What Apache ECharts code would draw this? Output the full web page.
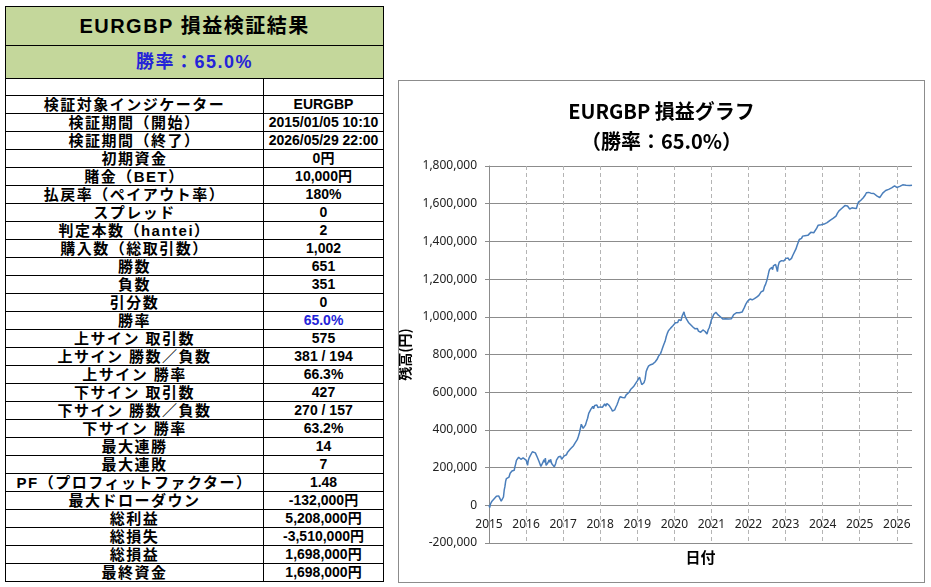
<!DOCTYPE html>
<html lang="ja">
<head>
  <meta charset="UTF-8" />
  <title>EURGBP 損益検証結果</title>
  <script src="https://cdn.jsdelivr.net/npm/echarts@6.0.0/dist/echarts.min.js"></script>
  <style>
    body {
      margin: 0;
      background: #ffffff;
      width: 931px;
      height: 587px;
      overflow: hidden;
      font-family: 'Liberation Sans', 'Noto Sans CJK JP', sans-serif;
    }
    #report {
      position: absolute;
      left: 5px;
      top: 6px;
      width: 378px;
      border-collapse: collapse;
      table-layout: fixed;
      color: #000;
      font-weight: bold;
    }
    #report td {
      border: 1px solid #000;
      padding: 0;
      text-align: center;
      white-space: nowrap;
      overflow: hidden;
      height: 17px;
      line-height: 17px;
    }
    #report td.lbl {
      font-size: 15px;
      letter-spacing: 1.5px;
    }
    #report td.val {
      font-size: 14px;
    }
    #report td.head {
      background: #c4d79b;
      height: 38px;
      line-height: 38px;
      font-size: 20px;
      letter-spacing: 1.5px;
    }
    #report td.rate {
      background: #c4d79b;
      height: 32px;
      line-height: 32px;
      font-size: 18px;
      letter-spacing: 1.5px;
      color: #2424d8;
    }
    #report td.blank { height: 16px; }
    .blue { color: #2424d8; }
    #chartBox {
      position: absolute;
      left: 398px;
      top: 80px;
      width: 525px;
      height: 501px;
      border: 1px solid #8c8c8c;
    }
  </style>
</head>
<body>
  <table id="report">
    <colgroup><col style="width:258px"><col style="width:120px"></colgroup>
    <tbody id="reportBody"></tbody>
  </table>
  <div id="chartBox"></div>
  <script>
    const reportTitle = 'EURGBP 損益検証結果';
    const winRateText = '勝率：65.0%';

    const rowLabels = [
      '検証対象インジケーター', '検証期間（開始）', '検証期間（終了）', '初期資金', '賭金（BET）',
      '払戻率（ペイアウト率）', 'スプレッド', '判定本数（hantei）', '購入数（総取引数）', '勝数',
      '負数', '引分数', '勝率', '上サイン 取引数', '上サイン 勝数／負数',
      '上サイン 勝率', '下サイン 取引数', '下サイン 勝数／負数', '下サイン 勝率', '最大連勝',
      '最大連敗', 'PF（プロフィットファクター）', '最大ドローダウン', '総利益', '総損失',
      '総損益', '最終資金'
    ];
    const rowValues = [
      'EURGBP', '2015/01/05 10:10', '2026/05/29 22:00', '0円', '10,000円',
      '180%', '0', '2', '1,002', '651',
      '351', '0', '65.0%', '575', '381 / 194',
      '66.3%', '427', '270 / 157', '63.2%', '14',
      '7', '1.48', '-132,000円', '5,208,000円', '-3,510,000円',
      '1,698,000円', '1,698,000円'
    ];
    const blueRows = ['勝率'];

    // chart data: decimal year / balance (thousand yen)
    const dates = [
      2015.00, 2015.02, 2015.04, 2015.06, 2015.08, 2015.11, 2015.14, 2015.17, 2015.20, 2015.23,
      2015.26, 2015.29, 2015.31, 2015.33, 2015.35, 2015.37, 2015.39, 2015.41, 2015.43, 2015.45,
      2015.47, 2015.49, 2015.51, 2015.54, 2015.57, 2015.60, 2015.62, 2015.65, 2015.68, 2015.70,
      2015.72, 2015.74, 2015.76, 2015.78, 2015.80, 2015.82, 2015.84, 2015.86, 2015.88, 2015.90,
      2015.92, 2015.95, 2015.97, 2016.00, 2016.02, 2016.04, 2016.06, 2016.08, 2016.11, 2016.14,
      2016.17, 2016.20, 2016.22, 2016.25, 2016.28, 2016.30, 2016.32, 2016.35, 2016.37, 2016.40,
      2016.42, 2016.44, 2016.46, 2016.48, 2016.50, 2016.52, 2016.54, 2016.56, 2016.59, 2016.62,
      2016.64, 2016.66, 2016.69, 2016.72, 2016.74, 2016.76, 2016.78, 2016.80, 2016.82, 2016.84,
      2016.87, 2016.90, 2016.93, 2016.96, 2017.00, 2017.03, 2017.06, 2017.09, 2017.12, 2017.16,
      2017.20, 2017.24, 2017.28, 2017.32, 2017.35, 2017.38, 2017.41, 2017.44, 2017.47, 2017.49,
      2017.51, 2017.54, 2017.57, 2017.60, 2017.63, 2017.66, 2017.69, 2017.72, 2017.75, 2017.78,
      2017.80, 2017.82, 2017.85, 2017.88, 2017.91, 2017.94, 2017.97, 2018.00, 2018.03, 2018.06,
      2018.09, 2018.12, 2018.15, 2018.18, 2018.21, 2018.24, 2018.27, 2018.30, 2018.33, 2018.36,
      2018.39, 2018.42, 2018.45, 2018.48, 2018.51, 2018.54, 2018.57, 2018.60, 2018.63, 2018.66,
      2018.70, 2018.74, 2018.78, 2018.82, 2018.86, 2018.90, 2018.93, 2018.96, 2019.00, 2019.03,
      2019.06, 2019.09, 2019.12, 2019.15, 2019.18, 2019.21, 2019.24, 2019.27, 2019.30, 2019.33,
      2019.36, 2019.39, 2019.42, 2019.45, 2019.48, 2019.51, 2019.54, 2019.57, 2019.60, 2019.63,
      2019.66, 2019.69, 2019.72, 2019.75, 2019.78, 2019.81, 2019.84, 2019.87, 2019.90, 2019.93,
      2019.96, 2020.00, 2020.03, 2020.06, 2020.09, 2020.12, 2020.15, 2020.18, 2020.21, 2020.24,
      2020.26, 2020.28, 2020.30, 2020.32, 2020.35, 2020.38, 2020.41, 2020.44, 2020.47, 2020.50,
      2020.53, 2020.56, 2020.59, 2020.62, 2020.65, 2020.68, 2020.71, 2020.74, 2020.77, 2020.80,
      2020.83, 2020.86, 2020.88, 2020.91, 2020.94, 2020.97, 2021.00, 2021.03, 2021.06, 2021.09,
      2021.12, 2021.15, 2021.18, 2021.21, 2021.24, 2021.28, 2021.31, 2021.35, 2021.38, 2021.42,
      2021.46, 2021.50, 2021.54, 2021.57, 2021.60, 2021.64, 2021.68, 2021.72, 2021.75, 2021.79,
      2021.83, 2021.86, 2021.89, 2021.92, 2021.95, 2021.98, 2022.01, 2022.04, 2022.07, 2022.10,
      2022.13, 2022.16, 2022.19, 2022.22, 2022.25, 2022.28, 2022.31, 2022.34, 2022.37, 2022.40,
      2022.43, 2022.46, 2022.49, 2022.51, 2022.53, 2022.55, 2022.57, 2022.59, 2022.61, 2022.63,
      2022.65, 2022.67, 2022.70, 2022.73, 2022.76, 2022.78, 2022.80, 2022.83, 2022.86, 2022.89,
      2022.92, 2022.95, 2022.98, 2023.01, 2023.04, 2023.07, 2023.10, 2023.13, 2023.16, 2023.19,
      2023.22, 2023.25, 2023.28, 2023.31, 2023.34, 2023.37, 2023.40, 2023.43, 2023.46, 2023.49,
      2023.52, 2023.56, 2023.60, 2023.64, 2023.68, 2023.72, 2023.76, 2023.80, 2023.84, 2023.88,
      2023.92, 2023.96, 2024.00, 2024.04, 2024.08, 2024.12, 2024.16, 2024.20, 2024.24, 2024.28,
      2024.32, 2024.36, 2024.40, 2024.44, 2024.48, 2024.52, 2024.56, 2024.60, 2024.64, 2024.67,
      2024.70, 2024.73, 2024.76, 2024.79, 2024.82, 2024.85, 2024.88, 2024.91, 2024.94, 2024.97,
      2025.00, 2025.03, 2025.06, 2025.09, 2025.12, 2025.15, 2025.18, 2025.21, 2025.24, 2025.27,
      2025.30, 2025.34, 2025.38, 2025.42, 2025.46, 2025.50, 2025.54, 2025.58, 2025.62, 2025.66,
      2025.70, 2025.74, 2025.78, 2025.82, 2025.86, 2025.90, 2025.94, 2025.97, 2026.00, 2026.04,
      2026.08, 2026.12, 2026.16, 2026.20, 2026.25, 2026.30, 2026.35, 2026.41
    ];
    const balanceK = [
      0, -12, 8, 2, 22, 18, 35, 30, 48, 44,
      50, 38, 46, 22, 30, 20, 44, 80, 100, 128,
      142, 135, 152, 150, 170, 165, 182, 190, 186, 205,
      220, 238, 242, 232, 255, 246, 258, 244, 250, 238,
      252, 262, 250, 240, 228, 212, 238, 250, 262, 270,
      284, 290, 282, 278, 268, 256, 262, 232, 222, 206,
      196, 212, 230, 242, 228, 250, 212, 208, 226, 240,
      228, 244, 222, 230, 212, 204, 198, 222, 240, 234,
      256, 248, 260, 244, 252, 262, 270, 268, 282, 292,
      300, 310, 316, 330, 338, 348, 365, 385, 412, 430,
      420, 408, 400, 425, 444, 462, 488, 498, 510, 518,
      525, 512, 530, 520, 532, 518, 528, 522, 532, 520,
      530, 538, 526, 540, 534, 530, 520, 512, 500, 494,
      506, 520, 532, 548, 565, 576, 580, 572, 568, 570,
      586, 592, 600, 614, 608, 630, 640, 648, 660, 670,
      680, 660, 640, 632, 650, 668, 710, 725, 738, 735,
      746, 740, 750, 748, 760, 764, 776, 790, 796, 806,
      822, 840, 856, 870, 894, 912, 926, 932, 940, 946,
      952, 960, 968, 975, 970, 984, 990, 980, 1004, 1010,
      1026, 1008, 1014, 990, 982, 970, 966, 958, 950, 946,
      942, 936, 930, 938, 924, 932, 918, 914, 930, 936,
      922, 914, 908, 930, 942, 962, 985, 996, 1012, 1020,
      1024, 1016, 1010, 1004, 1000, 994, 988, 996, 990, 984,
      988, 982, 990, 1000, 1012, 1018, 1022, 1028, 1022, 1030,
      1026, 1034, 1050, 1064, 1072, 1084, 1090, 1094, 1086, 1090,
      1082, 1096, 1100, 1104, 1110, 1114, 1120, 1132, 1140, 1138,
      1160, 1172, 1190, 1205, 1222, 1240, 1252, 1258, 1248, 1262,
      1250, 1270, 1264, 1278, 1256, 1240, 1270, 1290, 1286, 1298,
      1302, 1296, 1306, 1310, 1304, 1312, 1300, 1296, 1310, 1324,
      1334, 1348, 1360, 1378, 1394, 1410, 1420, 1416, 1428, 1422,
      1430, 1426, 1432, 1440, 1448, 1452, 1446, 1452, 1470, 1486,
      1494, 1488, 1496, 1492, 1490, 1500, 1506, 1512, 1516, 1522,
      1530, 1534, 1550, 1562, 1568, 1576, 1584, 1590, 1594, 1588,
      1584, 1572, 1562, 1578, 1586, 1576, 1584, 1574, 1596, 1610,
      1606, 1618, 1622, 1630, 1640, 1646, 1658, 1668, 1660, 1652,
      1656, 1648, 1654, 1650, 1642, 1638, 1632, 1640, 1656, 1662,
      1670, 1672, 1676, 1680, 1684, 1690, 1694, 1690, 1686, 1688,
      1692, 1698, 1700, 1696, 1698, 1694, 1696, 1698
    ];

    const chartTitle = 'EURGBP 損益グラフ\n（勝率：65.0%）';
    const xName = '日付';
    const yName = '残高(円)';

    function buildTable() {
      let html = `<tr><td class="head" colspan="2">${reportTitle}</td></tr>`;
      html += `<tr><td class="rate" colspan="2">${winRateText}</td></tr>`;
      html += '<tr><td class="blank"></td><td class="blank"></td></tr>';
      rowLabels.forEach((label, i) => {
        const cls = blueRows.includes(label) ? 'val blue' : 'val';
        html += `<tr><td class="lbl">${label}</td><td class="${cls}">${rowValues[i]}</td></tr>`;
      });
      document.getElementById('reportBody').innerHTML = html;
    }

    function withCommas(v) {
      return String(v).replace(/\B(?=(\d{3})+(?!\d))/g, ',');
    }

    function buildChart() {
      const chart = echarts.init(document.getElementById('chartBox'));
      const labelFont = "'Noto Sans', sans-serif";
      chart.setOption({
        animation: false,
        title: {
          text: chartTitle,
          left: 'center',
          top: 10,
          textStyle: {
            fontFamily: "'Noto Sans CJK JP', sans-serif",
            fontSize: 20,
            fontWeight: 'bold',
            color: '#000',
            lineHeight: 30
          }
        },
        grid: { left: 90, right: 12, top: 85, bottom: 39, containLabel: false, outerBoundsMode: 'none' },
        xAxis: {
          type: 'value',
          min: 2015,
          max: 2026.41,
          interval: 1,
          name: xName,
          nameLocation: 'middle',
          nameGap: 7,
          nameTextStyle: { fontFamily: "'Noto Sans CJK JP', sans-serif", fontSize: 15, fontWeight: 'bold', color: '#000' },
          axisLine: { show: true, onZero: false, lineStyle: { color: '#8c8c8c', width: 1 } },
          axisTick: { show: false },
          // labels sit under the zero line, as in the source chart
          axisLabel: {
            margin: -24,
            color: '#222',
            fontSize: 12,
            fontFamily: labelFont,
            formatter: v => Number.isInteger(v) ? String(v) : ''
          },
          splitLine: {
            show: true,
            showMaxLine: false,
            lineStyle: { color: '#b4b4b4', type: [4, 3], width: 1 }
          }
        },
        yAxis: {
          type: 'value',
          min: -200000,
          max: 1800000,
          interval: 200000,
          name: yName,
          nameLocation: 'middle',
          nameRotate: 90,
          nameGap: 66,
          nameTextStyle: { fontFamily: "'Noto Sans CJK JP', sans-serif", fontSize: 14, fontWeight: 'bold', color: '#000' },
          axisLine: { show: true, onZero: false, lineStyle: { color: '#8c8c8c', width: 1 } },
          axisTick: { show: true, length: 4, lineStyle: { color: '#8c8c8c' } },
          axisLabel: {
            margin: 12,
            color: '#222',
            fontSize: 12,
            fontFamily: labelFont,
            formatter: v => withCommas(v)
          },
          splitLine: { show: true, lineStyle: { color: '#8c8c8c', width: 1 } }
        },
        series: [{
          type: 'line',
          data: dates.map((d, i) => [d, balanceK[i] * 1000]),
          showSymbol: false,
          lineStyle: { color: '#4a7ebb', width: 1.5 },
          z: 3
        }]
      });
    }

    buildTable();
    buildChart();
  </script>
</body>
</html>
